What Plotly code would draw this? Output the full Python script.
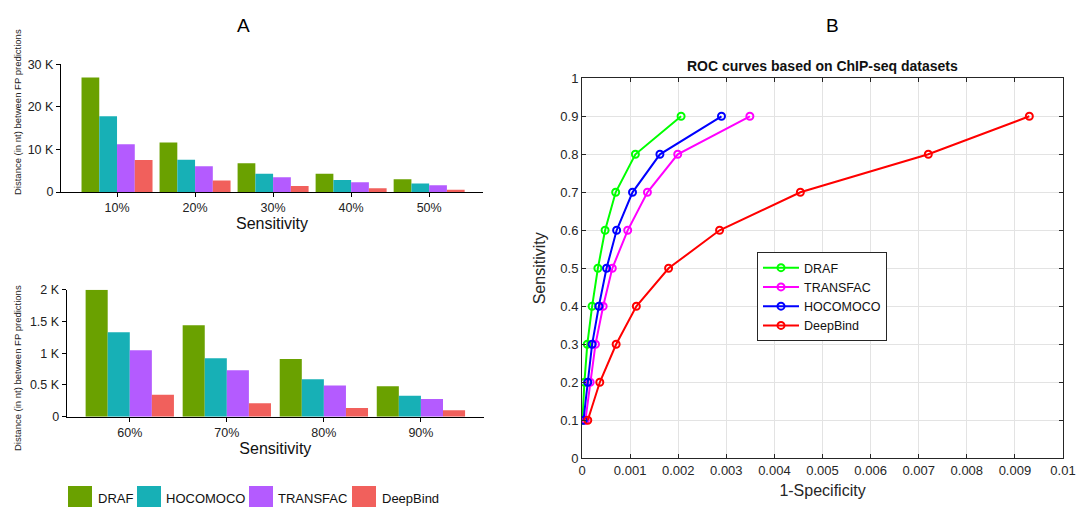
import plotly.graph_objects as go

# ---------------- Data ----------------
methods_bar = ["DRAF", "HOCOMOCO", "TRANSFAC", "DeepBind"]
bar_colors = ["#6aa100", "#17b0b6", "#b45bff", "#f1605c"]

sens_top = ["10%", "20%", "30%", "40%", "50%"]
draf_top = [26900, 11600, 6750, 4300, 3000]
hoco_top = [17800, 7600, 4300, 2800, 2000]
transfac_top = [11200, 6050, 3450, 2300, 1600]
deepbind_top = [7500, 2700, 1400, 900, 550]

sens_bot = ["60%", "70%", "80%", "90%"]
draf_bot = [2000, 1440, 910, 480]
hoco_bot = [1330, 920, 590, 330]
transfac_bot = [1045, 730, 490, 280]
deepbind_bot = [346, 210, 137, 100]

top_tickvals = [0, 10000, 20000, 30000]
top_ticktext = ["0", "10 K", "20 K", "30 K"]
bot_tickvals = [0, 500, 1000, 1500, 2000]
bot_ticktext = ["0", "0.5 K", "1 K", "1.5 K", "2 K"]

roc_sens = [0.1, 0.2, 0.3, 0.4, 0.5, 0.6, 0.7, 0.8, 0.9]
roc_draf = [0.00001, 0.00005, 0.00011, 0.00021, 0.00033, 0.00048, 0.00070, 0.00111, 0.00206]
roc_transfac = [0.00007, 0.00017, 0.00028, 0.00044, 0.00063, 0.00095, 0.00136, 0.00199, 0.00349]
roc_hoco = [0.00003, 0.00012, 0.00021, 0.00035, 0.00051, 0.00072, 0.00105, 0.00162, 0.00290]
roc_deepbind = [0.00012, 0.00037, 0.00071, 0.00113, 0.00180, 0.00286, 0.00454, 0.00720, 0.00930]
roc_names = ["DRAF", "TRANSFAC", "HOCOMOCO", "DeepBind"]
roc_colors = ["#00ff00", "#ff00ff", "#0000ff", "#ff0000"]

x_ticks_roc = [0, 0.001, 0.002, 0.003, 0.004, 0.005, 0.006, 0.007, 0.008, 0.009, 0.01]
x_ticktext_roc = ["0", "0.001", "0.002", "0.003", "0.004", "0.005", "0.006", "0.007", "0.008", "0.009", "0.01"]
y_ticks_roc = [0, 0.1, 0.2, 0.3, 0.4, 0.5, 0.6, 0.7, 0.8, 0.9, 1]
y_ticktext_roc = ["0", "0.1", "0.2", "0.3", "0.4", "0.5", "0.6", "0.7", "0.8", "0.9", "1"]

W, H = 1077, 507
FONT = "Liberation Sans, Arial, sans-serif"

def px_x(p):
    return p / W

def px_y(p):
    return 1 - p / H

fig = go.Figure()

top_vals = [draf_top, hoco_top, transfac_top, deepbind_top]
bot_vals = [draf_bot, hoco_bot, transfac_bot, deepbind_bot]
for name, col, tv, bv in zip(methods_bar, bar_colors, top_vals, bot_vals):
    fig.add_trace(go.Bar(x=sens_top, y=tv, name=name, marker=dict(color=col, line=dict(width=0)),
                         xaxis="x", yaxis="y", showlegend=False))
    fig.add_trace(go.Bar(x=sens_bot, y=bv, name=name, marker=dict(color=col, line=dict(width=0)),
                         xaxis="x2", yaxis="y2", showlegend=False))

roc_data = [roc_draf, roc_transfac, roc_hoco, roc_deepbind]
for name, col, xs in zip(roc_names, roc_colors, roc_data):
    fig.add_trace(go.Scatter(x=xs, y=roc_sens, name=name, mode="lines+markers",
                             line=dict(color=col, width=2),
                             marker=dict(symbol="circle-open", size=7, color=col, line=dict(width=2)),
                             xaxis="x3", yaxis="y3"))

bar_axis_common = dict(showgrid=False, zeroline=False, showline=True, linecolor="black", linewidth=1.2,
                       ticks="outside", ticklen=4, tickcolor="black", automargin=False,
                       tickfont=dict(family=FONT, size=12.5, color="#222"))

roc_axis_common = dict(showgrid=True, gridcolor="#e3e3e3", gridwidth=1, zeroline=False,
                       showline=True, linecolor="#262626", linewidth=1, mirror="ticks",
                       ticks="inside", ticklen=4, tickcolor="#262626", automargin=False,
                       tickfont=dict(family=FONT, size=13, color="#262626"))

fig.update_layout(
    width=W, height=H,
    margin=dict(l=0, r=0, t=0, b=0, autoexpand=False),
    paper_bgcolor="white", plot_bgcolor="white",
    barmode="group", bargap=0.09, bargroupgap=0,
    font=dict(family=FONT, color="#111"),
    xaxis=dict(domain=[px_x(61), px_x(483)], anchor="y", range=[-0.718, 4.69],
               type="category",
               title=dict(text="Sensitivity", font=dict(family=FONT, size=16, color="#111"), standoff=1),
               **bar_axis_common),
    yaxis=dict(domain=[px_y(192), px_y(64.3)], anchor="x", range=[0, 30000],
               tickvals=top_tickvals, ticktext=top_ticktext, **bar_axis_common),
    xaxis2=dict(domain=[px_x(66.7), px_x(484)], anchor="y2", range=[-0.65, 3.65],
                type="category",
                title=dict(text="Sensitivity", font=dict(family=FONT, size=16, color="#111"), standoff=1),
                **bar_axis_common),
    yaxis2=dict(domain=[px_y(416.7), px_y(289.7)], anchor="x2", range=[0, 2000],
                tickvals=bot_tickvals, ticktext=bot_ticktext, **bar_axis_common),
    xaxis3=dict(domain=[px_x(582), px_x(1063)], anchor="y3", range=[0, 0.01],
                tickvals=x_ticks_roc, ticktext=x_ticktext_roc,
                title=dict(text="1-Specificity", font=dict(family=FONT, size=16, color="#262626"), standoff=7),
                **roc_axis_common),
    yaxis3=dict(domain=[px_y(458.3), px_y(78.3)], anchor="x3", range=[0, 1],
                tickvals=y_ticks_roc, ticktext=y_ticktext_roc,
                title=dict(text="Sensitivity", font=dict(family=FONT, size=16, color="#262626"), standoff=10),
                **roc_axis_common),
    legend=dict(x=px_x(757), y=px_y(252), xanchor="left", yanchor="top",
                bgcolor="white", bordercolor="#262626", borderwidth=1,
                font=dict(family=FONT, size=12.5, color="#111"),
                tracegroupgap=0, itemwidth=36),
)

annotations = [
    dict(text="A", x=px_x(243), y=px_y(25), xref="paper", yref="paper", showarrow=False,
         xanchor="center", yanchor="middle",
         font=dict(family=FONT, size=19, color="black")),
    dict(text="B", x=px_x(832), y=px_y(25), xref="paper", yref="paper", showarrow=False,
         xanchor="center", yanchor="middle",
         font=dict(family=FONT, size=19, color="black")),
    dict(text="<b>ROC curves based on ChIP-seq datasets</b>", x=px_x(822), y=px_y(66),
         xref="paper", yref="paper", showarrow=False, xanchor="center", yanchor="middle",
         font=dict(family=FONT, size=14, color="#111")),
    dict(text="Distance (in nt) between FP predictions", x=px_x(17), y=px_y(112),
         xref="paper", yref="paper", showarrow=False, textangle=-90,
         xanchor="center", yanchor="middle",
         font=dict(family=FONT, size=9.5, color="#222")),
    dict(text="Distance (in nt) between FP predictions", x=px_x(17), y=px_y(368),
         xref="paper", yref="paper", showarrow=False, textangle=-90,
         xanchor="center", yanchor="middle",
         font=dict(family=FONT, size=9.5, color="#222")),
]

# manual legend for bar panels
shapes = []
leg_sq = [68, 137, 249, 352]
leg_tx = [96, 164, 276, 380]
for name, col, sx, tx in zip(methods_bar, bar_colors, leg_sq, leg_tx):
    shapes.append(dict(type="rect", xref="paper", yref="paper",
                       x0=px_x(sx), x1=px_x(sx + 24), y0=px_y(508), y1=px_y(486),
                       fillcolor=col, line=dict(width=0)))
    annotations.append(dict(text=name, x=px_x(tx), y=px_y(498), xref="paper", yref="paper",
                            xanchor="left", yanchor="middle", showarrow=False,
                            font=dict(family=FONT, size=13, color="#111")))

fig.update_layout(annotations=annotations, shapes=shapes)

fig.write_html("out.html", config={"displayModeBar": False},
               post_script="document.body.style.margin='0';document.body.style.overflow='hidden';")
